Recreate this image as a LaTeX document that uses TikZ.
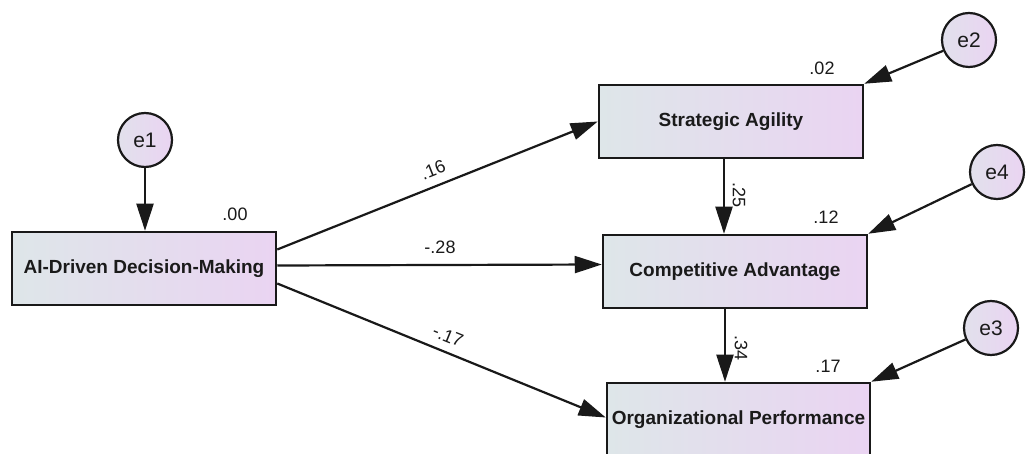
\documentclass[tikz,border=0pt]{standalone}
\usepackage{fontspec}
\setmainfont{Liberation Sans}
\usetikzlibrary{arrows.meta,calc}
\definecolor{boxL}{HTML}{DEE6E9}
\definecolor{boxR}{HTML}{EAD4F2}
\definecolor{txt}{HTML}{1A1A1A}
\tikzset{
  var/.style={draw=black!90, line width=2.5pt, shading=axis, left color=boxL, right color=boxR,
    minimum width=264pt, minimum height=73pt, inner sep=0pt,
    font=\fontsize{19}{22}\selectfont\bfseries, text=txt},
  err/.style={circle, draw=black!90, line width=2.2pt, shading=axis, left color=boxL!70!boxR, right color=boxR,
    minimum size=54pt, inner sep=0pt, font=\fontsize{21}{23}\selectfont, text=txt},
  path/.style={draw=black!90, line width=2.2pt, -{Triangle[length=27pt,width=17pt]}},
  coef/.style={font=\fontsize{18}{21}\selectfont, text=txt, inner sep=0pt},
}
\begin{document}
\begin{tikzpicture}[x=1pt,y=-1pt]
\useasboundingbox (0,0) rectangle (1029,454);
\fill[white] (0,0) rectangle (1029,454);
% variables
\node[var] (AI) at (144,268.5) {AI-Driven Decision-Making};
\node[var] (SA) at (731,121.5) {Strategic Agility};
\node[var] (CA) at (735,271.5) {Competitive Advantage};
\node[var, minimum width=263pt] (OP) at (738.5,419.5) {Organizational Performance};
% errors
\node[err] (e1) at (145,140) {e1};
\node[err] (e2) at (969,40) {e2};
\node[err] (e4) at (997,172) {e4};
\node[err] (e3) at (991,328) {e3};
% error paths
\draw[path] (e1) -- (e1 |- AI.north);
\draw[path] (e2) -- (SA.north east);
\draw[path] (e4) -- (CA.north east);
\draw[path] (e3) -- (OP.north east);
% structural paths
\draw[path] ([yshift=19pt]AI.east) -- (SA.west);
\draw[path] ([yshift=3pt]AI.east) -- ([yshift=7pt]CA.west);
\draw[path] ([yshift=-15pt]AI.east) -- ([yshift=2pt]OP.west);
\draw[path] ([xshift=-7pt]SA.south) -- ([xshift=-7pt]SA.south |- CA.north);
\draw[path] ([xshift=-10pt]CA.south) -- ([xshift=-10pt]CA.south |- OP.north);
% coefficients
\node[coef] (r1) at (235,214) {.00};
\node[coef] (r2) at (822,68) {.02};
\node[coef] (r4) at (826,217) {.12};
\node[coef] (r3) at (828,366) {.17};
\node[coef, rotate=21.6] (b1) at (433,170) {.16};
\node[coef] (b2) at (440,247) {-.28};
\node[coef, rotate=-22.1] (b3) at (448,336) {-.17};
\node[coef, rotate=-90] (b4) at (739,195) {.25};
\node[coef, rotate=-90] (b5) at (741,348) {.34};
\end{tikzpicture}
\end{document}
